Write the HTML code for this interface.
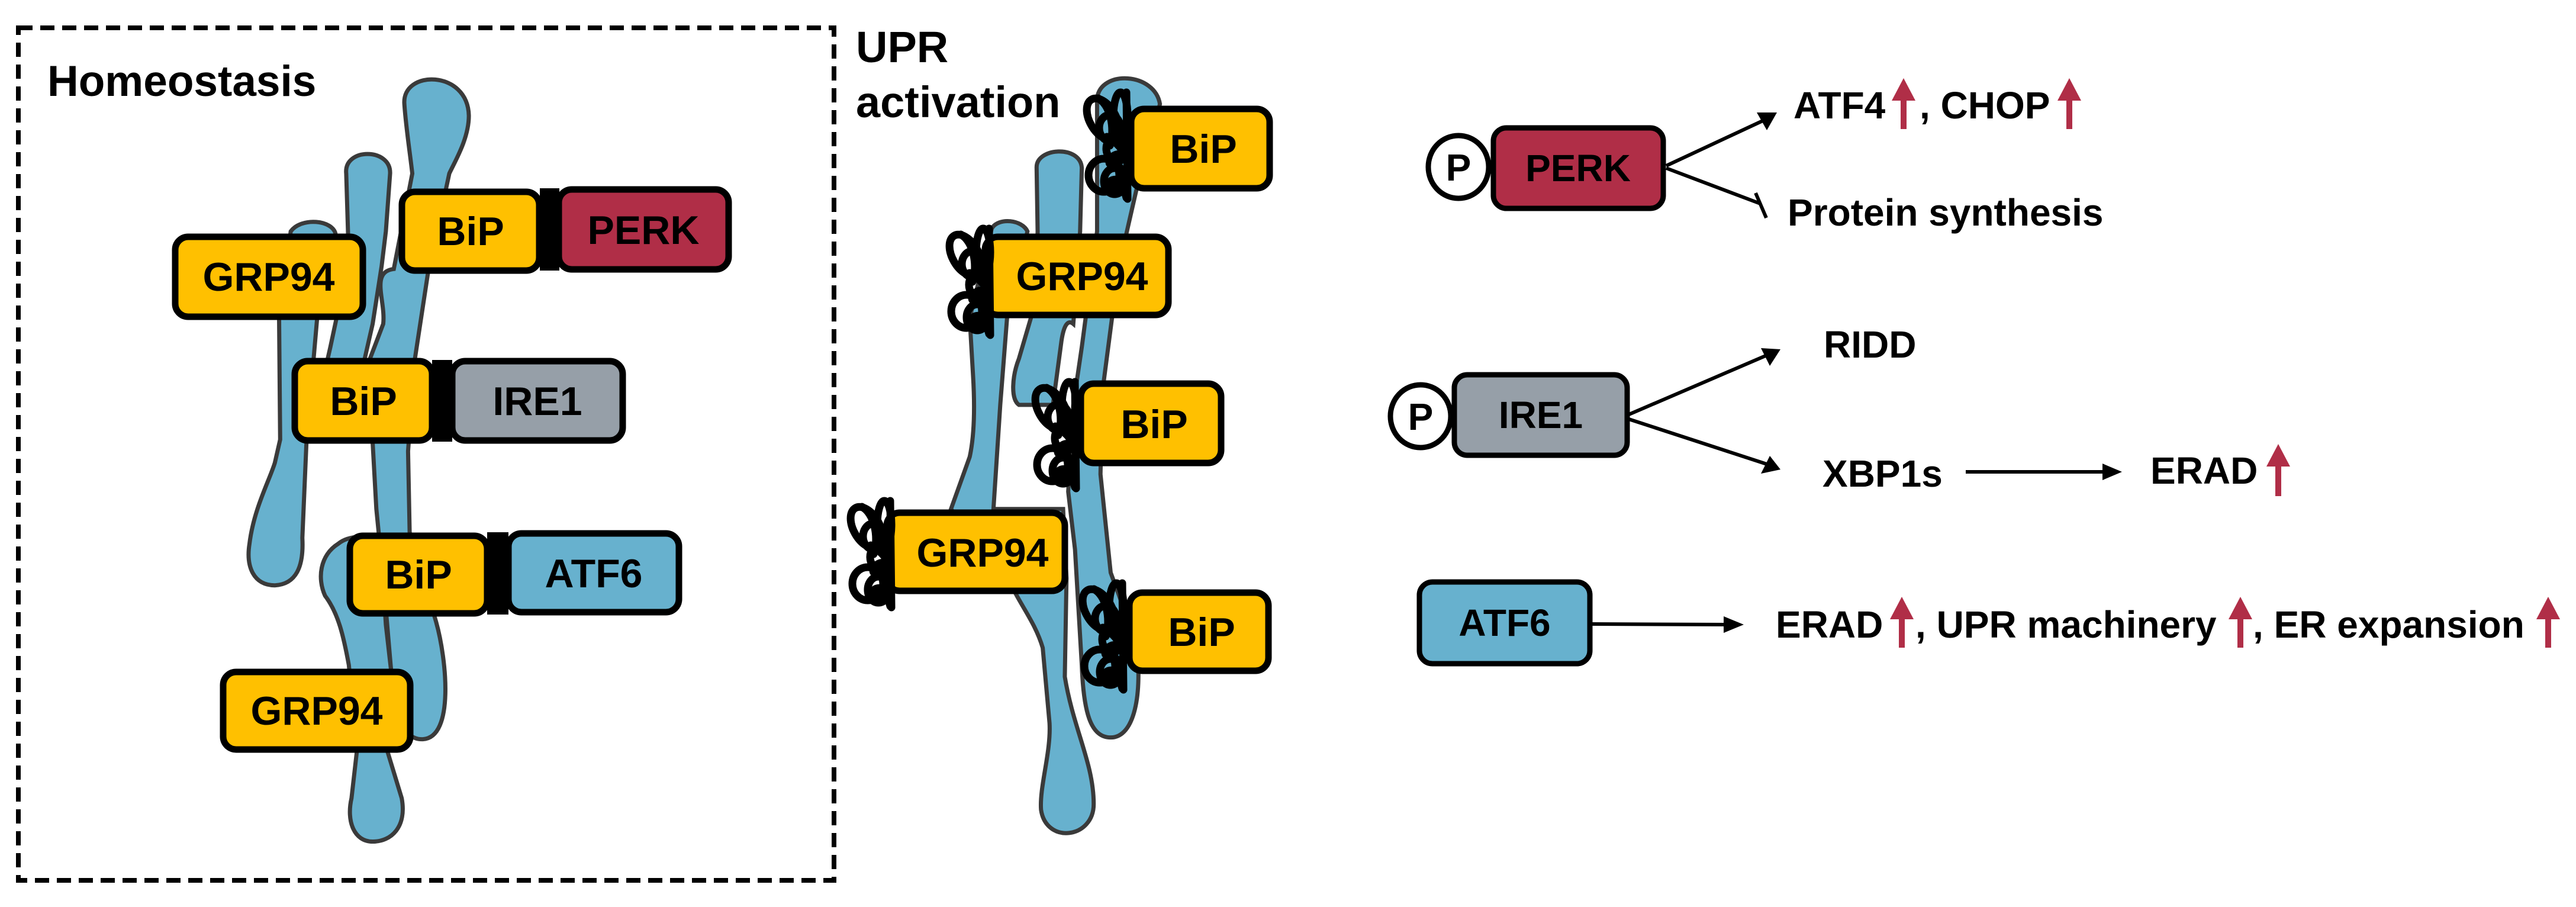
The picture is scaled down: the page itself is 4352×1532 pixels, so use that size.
<!DOCTYPE html>
<html><head><meta charset="utf-8"><style>
html,body{margin:0;padding:0;background:#fff;}
svg{display:block;}
text{font-family:"Liberation Sans",Arial,sans-serif;font-weight:bold;}
</style></head><body>
<svg width="4352" height="1532" viewBox="0 0 4352 1532" xmlns="http://www.w3.org/2000/svg">
<defs>
<g id="tangle" fill="none" stroke="#000" stroke-width="13" stroke-linecap="round">
<ellipse cx="28" cy="45" rx="22" ry="38" transform="rotate(-30 28 45)"/>
<ellipse cx="58" cy="40" rx="12" ry="40"/>
<ellipse cx="40" cy="60" rx="18" ry="22"/>
<path d="M35 75 C60 90 75 110 50 120 C30 130 40 100 60 105"/>
<ellipse cx="50" cy="95" rx="16" ry="20"/>
<ellipse cx="30" cy="140" rx="26" ry="28"/>
<ellipse cx="48" cy="150" rx="18" ry="22"/>
<path d="M50 120 C75 140 70 170 45 165 C30 160 40 140 60 150 L68 178"/>
<path d="M68 0 L70 180"/>
<path d="M20 10 C40 20 50 60 40 90"/>
</g>
</defs>

<rect x="31" y="47" width="1378" height="1440" fill="none" stroke="#000" stroke-width="8" stroke-dasharray="24 13"/>
<text x="80" y="162" font-size="73">Homeostasis</text>

<g transform="scale(0.893 0.977)" fill="#67B1CE" stroke="#3a3a3a">
<path vector-effect="non-scaling-stroke" stroke-width="7" d="M765,180 C760,120 885,120 887,200 C887,240 860,280 850,300 L810,470 L785,620 L772,780 L775,920 L825,1075 C845,1140 860,1275 800,1278 C760,1280 750,1230 740,1160 L725,1000 L712,880 L705,765 L700,620 L725,560 C730,520 700,470 745,465 L780,300 C775,260 768,220 765,180 Z"/>
<path vector-effect="non-scaling-stroke" stroke-width="7" d="M655,300 C650,255 740,255 738,300 L730,400 L722,460 L705,560 L690,620 L640,700 L600,700 L625,600 L660,450 Z"/>
<path vector-effect="non-scaling-stroke" stroke-width="7" d="M550,400 C570,375 630,380 635,405 L600,550 L580,760 L572,930 C575,980 560,1010 520,1012 C480,1012 465,980 472,940 C480,880 510,830 520,800 L530,760 L528,550 Z"/>
<path vector-effect="non-scaling-stroke" stroke-width="7" d="M640,940 C660,925 700,925 720,935 L730,1080 L740,1160 L730,1290 L760,1380 C770,1430 740,1455 705,1455 C670,1455 655,1420 665,1380 L675,1300 L660,1150 C650,1100 640,1060 615,1030 C600,1000 605,960 640,940 Z"/>
</g>

<g stroke="#000" stroke-width="11">
<rect x="679" y="324" width="232" height="133" rx="22" fill="#FFC000"/>
<rect x="944" y="320" width="287" height="135" rx="22" fill="#B02E47"/>
<rect x="498" y="610" width="232" height="134" rx="22" fill="#FFC000"/>
<rect x="764" y="610" width="288" height="134" rx="22" fill="#969FA8"/>
<rect x="591" y="905" width="232" height="131" rx="22" fill="#FFC000"/>
<rect x="859" y="901" width="288" height="133" rx="22" fill="#67B1CE"/>
<rect x="296" y="400" width="317" height="135" rx="22" fill="#FFC000"/>
<rect x="377" y="1135" width="316" height="131" rx="22" fill="#FFC000"/>
</g>
<rect x="912" y="318" width="33" height="139" fill="#000"/>
<rect x="730" y="608" width="34" height="138" fill="#000"/>
<rect x="823" y="899" width="36" height="139" fill="#000"/>
<g font-size="68" text-anchor="middle">
<text x="795" y="414">BiP</text>
<text x="1087" y="412">PERK</text>
<text x="614" y="701">BiP</text>
<text x="908" y="701">IRE1</text>
<text x="707" y="994">BiP</text>
<text x="1003" y="992">ATF6</text>
<text x="454" y="491">GRP94</text>
<text x="535" y="1224">GRP94</text>
</g>

<text x="1446" y="105" font-size="74">UPR</text>
<text x="1446" y="198" font-size="74">activation</text>
<g transform="translate(1400 0) scale(0.574 0.977)" fill="#67B1CE" stroke="#3a3a3a">
<path vector-effect="non-scaling-stroke" stroke-width="7" d="M790,170 C800,120 960,125 975,180 L905,330 L870,420 L835,545 L805,680 L800,820 L830,990 L905,1110 C925,1200 900,1275 830,1275 C770,1275 750,1230 745,1150 L725,950 L705,850 L720,700 L745,600 L790,400 L790,300 Z"/>
<path vector-effect="non-scaling-stroke" stroke-width="7" d="M612,290 C610,255 740,250 745,290 L740,400 L720,560 C700,550 690,570 685,590 L660,700 L560,700 C535,690 540,650 560,620 L610,520 L615,400 Z"/>
<path vector-effect="non-scaling-stroke" stroke-width="7" d="M480,395 C500,375 570,380 585,400 L525,550 L505,700 L485,880 L690,880 L700,1000 L695,1170 C720,1260 780,1320 780,1390 C780,1450 640,1460 625,1400 C620,1360 655,1300 650,1250 L630,1120 C610,1080 570,1050 545,1020 L360,880 L415,790 C430,750 430,700 425,650 L415,550 Z"/>
</g>
<g stroke="#000" stroke-width="11" fill="#FFC000">
<rect x="1911" y="184" width="234" height="134" rx="22"/>
<rect x="1664" y="400" width="310" height="132" rx="22"/>
<rect x="1826" y="648" width="237" height="134" rx="22"/>
<rect x="1498" y="866" width="301" height="132" rx="22"/>
<rect x="1908" y="1001" width="235" height="132" rx="22"/>
</g>
<use href="#tangle" transform="translate(1835 156)"/>
<use href="#tangle" transform="translate(1603 386)"/>
<use href="#tangle" transform="translate(1748 645)"/>
<use href="#tangle" transform="translate(1436 846)"/>
<use href="#tangle" transform="translate(1828 985)"/>
<g font-size="68" text-anchor="middle">
<text x="2033" y="275">BiP</text>
<text x="1828" y="490">GRP94</text>
<text x="1950" y="740">BiP</text>
<text x="1660" y="957">GRP94</text>
<text x="2030" y="1091">BiP</text>
</g>

<g stroke="#000" stroke-width="9">
<ellipse cx="2464" cy="282" rx="51" ry="53" fill="#fff"/>
<rect x="2523" y="216" width="287" height="136" rx="22" fill="#B02E47"/>
<ellipse cx="2400" cy="703" rx="51" ry="53" fill="#fff"/>
<rect x="2457" y="633" width="292" height="136" rx="22" fill="#969FA8"/>
<rect x="2398" y="983" width="288" height="138" rx="22" fill="#67B1CE"/>
</g>
<g font-size="64" text-anchor="middle">
<text x="2464" y="305">P</text>
<text x="2666" y="306">PERK</text>
<text x="2400" y="726">P</text>
<text x="2603" y="723">IRE1</text>
<text x="2542" y="1074">ATF6</text>
</g>
<g stroke="#000" stroke-width="6" fill="none">
<line x1="2815" y1="280" x2="2978" y2="204"/>
<line x1="2815" y1="284" x2="2974" y2="344"/>
<line x1="2966" y1="326" x2="2984" y2="368"/>
<line x1="2752" y1="700" x2="2985" y2="600"/>
<line x1="2752" y1="708" x2="2985" y2="784"/>
<line x1="3321" y1="797" x2="3555" y2="797"/>
<line x1="2690" y1="1054" x2="2915" y2="1055"/>
</g>
<g fill="#000">
<polygon points="3002,190 2968,190 2985,220"/>
<polygon points="3008,590 2975,588 2990,618"/>
<polygon points="3008,793 2975,800 2990,770"/>
<polygon points="3585,797 3552,783 3552,811"/>
<polygon points="2946,1055 2912,1041 2912,1069"/>
</g>
<g font-size="64">
<text x="3030" y="200">ATF4</text>
<text x="3243" y="200">, CHOP</text>
<text x="3020" y="381">Protein synthesis</text>
<text x="3081" y="604">RIDD</text>
<text x="3079" y="822">XBP1s</text>
<text x="3633" y="817">ERAD</text>
<text x="3000" y="1077">ERAD</text>
<text x="3236" y="1077">, UPR machinery</text>
<text x="3806" y="1077">, ER expansion</text>
</g>
<g fill="#B02E47">
<path d="M3216,132 L3236,170 L3221,170 L3221,218 L3211,218 L3211,170 L3196,170 Z"/>
<path d="M3496,132 L3516,170 L3501,170 L3501,218 L3491,218 L3491,170 L3476,170 Z"/>
<path d="M3849,750 L3869,788 L3854,788 L3854,838 L3844,838 L3844,788 L3829,788 Z"/>
<path d="M3213,1008 L3233,1046 L3218,1046 L3218,1094 L3208,1094 L3208,1046 L3193,1046 Z"/>
<path d="M3785,1008 L3805,1046 L3790,1046 L3790,1094 L3780,1094 L3780,1046 L3765,1046 Z"/>
<path d="M4305,1008 L4325,1046 L4310,1046 L4310,1094 L4300,1094 L4300,1046 L4285,1046 Z"/>
</g>
</svg>
</body></html>
